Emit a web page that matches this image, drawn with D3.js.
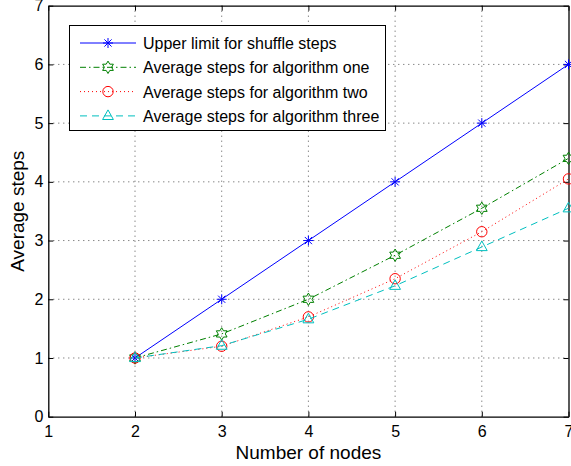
<!DOCTYPE html>
<html>
<head>
<meta charset="utf-8">
<script src="https://cdn.jsdelivr.net/npm/d3@7"></script>
<style>
  body { margin: 0; background: #fff; }
  svg { display: block; font-family: "Liberation Sans", Arial, Helvetica, sans-serif; }
</style>
</head>
<body>
<svg id="chart" width="571" height="466"></svg>
<script>
// Number of nodes on the x axis
const nodes = [2, 3, 4, 5, 6, 7];

// Average step counts per method
const upperLimit = [1, 2, 3, 4, 5, 6];
const algorithmOne = [1.0, 1.41, 2.0, 2.75, 3.55, 4.40];
const algorithmTwo = [1.0, 1.20, 1.70, 2.35, 3.15, 4.05];
const algorithmThree = [1.0, 1.21, 1.66, 2.23, 2.89, 3.55];

const seriesNames = [
  "Upper limit for shuffle steps",
  "Average steps for algorithm one",
  "Average steps for algorithm two",
  "Average steps for algorithm three"
];

const xTicks = [1, 2, 3, 4, 5, 6, 7];
const yTicks = [0, 1, 2, 3, 4, 5, 6, 7];

const svg = d3.select("#chart");
const plotLeft = 48.3, plotRight = 568.5, plotTop = 5.7, plotBottom = 416.7;

const x = d3.scaleLinear().domain([1, 7]).range([plotLeft, plotRight]);
const y = d3.scaleLinear().domain([0, 7]).range([plotBottom, plotTop]);

const series = [
  { name: seriesNames[0], values: upperLimit, color: "#0000ff", dash: null, marker: "star" },
  { name: seriesNames[1], values: algorithmOne, color: "#008000", dash: "6,3,1.5,3", marker: "hexagram" },
  { name: seriesNames[2], values: algorithmTwo, color: "#ff0000", dash: "1,3", marker: "circle" },
  { name: seriesNames[3], values: algorithmThree, color: "#00bfbf", dash: "7,5", marker: "triangle" }
];

// Grid lines (dotted)
const grid = svg.append("g").attr("stroke", "#555").attr("stroke-width", 1)
  .attr("stroke-dasharray", "1,4");
xTicks.slice(1, -1).forEach(t => {
  grid.append("line").attr("x1", x(t)).attr("x2", x(t)).attr("y1", plotTop).attr("y2", plotBottom);
});
yTicks.slice(1, -1).forEach(t => {
  grid.append("line").attr("y1", y(t)).attr("y2", y(t)).attr("x1", plotLeft).attr("x2", plotRight);
});

// Axes with inward ticks on all sides
const xAxisB = d3.axisBottom(x).tickValues(xTicks).tickSizeInner(-5).tickSizeOuter(0).tickPadding(8.5).tickFormat(d3.format("d"));
const xAxisT = d3.axisTop(x).tickValues(xTicks).tickSizeInner(-5).tickSizeOuter(0).tickFormat("");
const yAxisL = d3.axisLeft(y).tickValues(yTicks).tickSizeInner(-5).tickSizeOuter(0).tickPadding(5).tickFormat(d3.format("d"));
const yAxisR = d3.axisRight(y).tickValues(yTicks).tickSizeInner(-5).tickSizeOuter(0).tickFormat("");

function styleAxis(g) {
  g.select(".domain").attr("stroke", "#000").attr("stroke-width", 1.3);
  g.selectAll(".tick line").attr("stroke", "#000");
  g.selectAll(".tick text").attr("fill", "#000").attr("font-size", 16)
    .attr("font-family", "'Liberation Sans', Arial, sans-serif");
}
svg.append("g").attr("transform", `translate(0,${plotBottom})`).call(xAxisB).call(styleAxis);
svg.append("g").attr("transform", `translate(0,${plotTop})`).call(xAxisT).call(styleAxis);
svg.append("g").attr("transform", `translate(${plotLeft},0)`).call(yAxisL).call(styleAxis);
svg.append("g").attr("transform", `translate(${plotRight},0)`).call(yAxisR).call(styleAxis);

// Marker drawing
function drawMarker(g, type, cx, cy, color) {
  const s = g.append("g").attr("transform", `translate(${cx},${cy})`)
    .attr("fill", "none").attr("stroke", color).attr("stroke-width", 1);
  if (type === "star") {
    const r = 5;
    s.append("line").attr("x1", -r).attr("x2", r).attr("y1", 0).attr("y2", 0);
    s.append("line").attr("x1", 0).attr("x2", 0).attr("y1", -r).attr("y2", r);
    const d = r * 0.72;
    s.append("line").attr("x1", -d).attr("x2", d).attr("y1", -d).attr("y2", d);
    s.append("line").attr("x1", -d).attr("x2", d).attr("y1", d).attr("y2", -d);
  } else if (type === "hexagram") {
    const R = 6.2, r = 3.6, pts = [];
    for (let i = 0; i < 12; i++) {
      const a = -Math.PI / 2 + i * Math.PI / 6;
      const rr = i % 2 === 0 ? R : r;
      pts.push([rr * Math.cos(a), rr * Math.sin(a)]);
    }
    s.append("polygon").attr("points", pts.map(p => p.join(",")).join(" "));
  } else if (type === "circle") {
    s.append("circle").attr("r", 5.2);
  } else if (type === "triangle") {
    const r = 6;
    s.append("polygon").attr("points", `0,${-r} ${r * 0.9},${r * 0.6} ${-r * 0.9},${r * 0.6}`);
  }
}

// Lines and markers
const line = d3.line().x((d, i) => x(nodes[i])).y(d => y(d));
series.forEach(s => {
  svg.append("path").datum(s.values).attr("d", line)
    .attr("fill", "none").attr("stroke", s.color).attr("stroke-width", 1)
    .attr("stroke-dasharray", s.dash);
  const mg = svg.append("g");
  s.values.forEach((v, i) => drawMarker(mg, s.marker, x(nodes[i]), y(v), s.color));
});

// Legend
const legend = svg.append("g");
legend.append("rect").attr("x", 69.5).attr("y", 25.5).attr("width", 316).attr("height", 105)
  .attr("fill", "#fff").attr("stroke", "#000").attr("stroke-width", 1);
series.forEach((s, i) => {
  const ly = 43 + i * 24.3;
  legend.append("line").attr("x1", 80).attr("x2", 136).attr("y1", ly).attr("y2", ly)
    .attr("stroke", s.color).attr("stroke-width", 1).attr("stroke-dasharray", s.dash);
  drawMarker(legend, s.marker, 108, ly, s.color);
  legend.append("text").attr("x", 143).attr("y", ly + 6).attr("font-size", 16)
    .attr("fill", "#000").text(s.name);
});

// Axis titles
svg.append("text").attr("x", (plotLeft + plotRight) / 2).attr("y", 458.5).attr("text-anchor", "middle")
  .attr("font-size", 19).attr("fill", "#000").text("Number of nodes");
svg.append("text").attr("transform", `translate(24,${(plotTop + plotBottom) / 2}) rotate(-90)`)
  .attr("text-anchor", "middle").attr("font-size", 19).attr("fill", "#000").text("Average steps");
</script>
</body>
</html>
